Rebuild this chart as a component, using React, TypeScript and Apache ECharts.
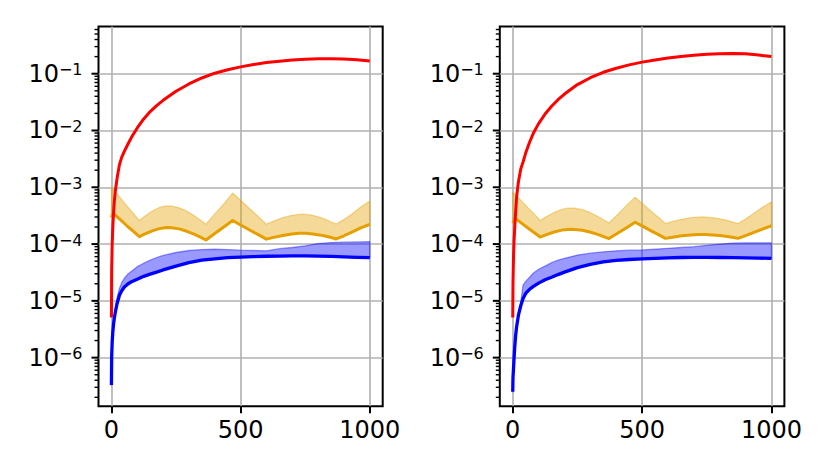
import React, { useEffect, useRef } from "react";
import * as echarts from "echarts";

const FONT = "DejaVu Sans";

// Axis settings
const X_MIN = -50;
const X_MAX = 1050;
const X_TICKS = [0, 500, 1000];
const Y_MIN = 1.39e-7;
const Y_MAX = 0.678;
const Y_MAJOR = [1e-6, 1e-5, 1e-4, 1e-3, 1e-2, 1e-1];
const MINOR_MANTISSAS = [2, 3, 4, 5, 6, 7, 8, 9];
const MINOR_DECADES = [-7, -6, -5, -4, -3, -2, -1];

// Shared x grid for red and blue curves
const xs = [0, 1, 3, 5, 8, 11, 15, 22, 31, 40, 50, 65, 80, 100, 125, 150, 175, 200, 250, 300, 350, 400, 450, 500, 550, 600, 650, 700, 750, 800, 850, 900, 950, 1000];

// Left panel
const redLeft = [5.1e-6, 3.5e-5, 1.0e-4, 1.8e-4, 3.4e-4, 5.5e-4, 8.5e-4, 1.45e-3, 2.5e-3, 3.4e-3, 4.3e-3, 5.9e-3, 7.9e-3, 1.11e-2, 1.6e-2, 2.15e-2, 2.75e-2, 3.4e-2, 4.9e-2, 6.6e-2, 8.41e-2, 0.102, 0.1175, 0.132, 0.145, 0.157, 0.166, 0.174, 0.18, 0.183, 0.184, 0.182, 0.176, 0.167];
const blueLeftLo = [3.3e-7, 1.05e-6, 1.9e-6, 2.7e-6, 3.8e-6, 4.9e-6, 6.3e-6, 9.0e-6, 1.25e-5, 1.5e-5, 1.75e-5, 2.0e-5, 2.2e-5, 2.4e-5, 2.7e-5, 2.95e-5, 3.2e-5, 3.5e-5, 4.1e-5, 4.7e-5, 5.2e-5, 5.5e-5, 5.75e-5, 5.9e-5, 6.0e-5, 6.1e-5, 6.15e-5, 6.2e-5, 6.2e-5, 6.15e-5, 6.05e-5, 5.95e-5, 5.85e-5, 5.75e-5];
const blueLeftHi = [3.3e-7, 1.05e-6, 1.9e-6, 2.7e-6, 3.8e-6, 4.9e-6, 7.0e-6, 1.15e-5, 1.65e-5, 2.1e-5, 2.5e-5, 3.0e-5, 3.4e-5, 4.0e-5, 4.6e-5, 5.2e-5, 5.8e-5, 6.3e-5, 7.1e-5, 7.7e-5, 8.0e-5, 8.1e-5, 8.0e-5, 7.8e-5, 7.7e-5, 7.6e-5, 8.3e-5, 8.7e-5, 9.3e-5, 1.02e-4, 1.06e-4, 1.08e-4, 1.09e-4, 1.1e-4];
const orangeLeftX = [0, 6, 30, 60, 85, 108, 130, 158, 185, 207, 218, 233, 262, 292, 322, 348, 366, 400, 435, 469, 500, 535, 570, 600, 628, 663, 698, 726, 740, 753, 779, 805, 831, 854, 870, 900, 935, 965, 1000];
const orangeLeftLo = [2.95e-4, 3.5e-4, 2.8e-4, 2.1e-4, 1.67e-4, 1.35e-4, 1.51e-4, 1.71e-4, 1.87e-4, 1.94e-4, 1.95e-4, 1.94e-4, 1.85e-4, 1.68e-4, 1.48e-4, 1.3e-4, 1.18e-4, 1.53e-4, 2.0e-4, 2.6e-4, 2.17e-4, 1.77e-4, 1.45e-4, 1.22e-4, 1.31e-4, 1.42e-4, 1.51e-4, 1.55e-4, 1.55e-4, 1.545e-4, 1.51e-4, 1.45e-4, 1.37e-4, 1.29e-4, 1.23e-4, 1.4e-4, 1.66e-4, 1.93e-4, 2.23e-4];
const orangeLeftHi = [1.0e-3, 9.3e-4, 6.9e-4, 4.7e-4, 3.45e-4, 2.6e-4, 3.12e-4, 3.82e-4, 4.41e-4, 4.67e-4, 4.7e-4, 4.66e-4, 4.34e-4, 3.79e-4, 3.13e-4, 2.57e-4, 2.24e-4, 3.4e-4, 5.1e-4, 7.9e-4, 5.9e-4, 4.2e-4, 3.0e-4, 2.24e-4, 2.54e-4, 2.91e-4, 3.21e-4, 3.33e-4, 3.35e-4, 3.33e-4, 3.21e-4, 2.98e-4, 2.69e-4, 2.42e-4, 2.25e-4, 2.7e-4, 3.5e-4, 4.5e-4, 5.7e-4];

// Right panel
const redRight = [5.1e-6, 2.0e-5, 6.0e-5, 1.1e-4, 2.0e-4, 3.6e-4, 6.8e-4, 1.25e-3, 2.1e-3, 2.8e-3, 4.0e-3, 6.2e-3, 9.0e-3, 1.32e-2, 1.95e-2, 2.67e-2, 3.48e-2, 4.38e-2, 6.44e-2, 8.5e-2, 0.106, 0.125, 0.143, 0.16, 0.175, 0.189, 0.201, 0.212, 0.22, 0.225, 0.227, 0.224, 0.214, 0.2];
const blueRightLo = [2.5e-7, 4.5e-7, 6.5e-7, 9.5e-7, 1.6e-6, 2.4e-6, 3.5e-6, 5.6e-6, 8.2e-6, 1.1e-5, 1.35e-5, 1.6e-5, 1.8e-5, 2.05e-5, 2.35e-5, 2.6e-5, 2.9e-5, 3.2e-5, 3.85e-5, 4.4e-5, 4.85e-5, 5.15e-5, 5.35e-5, 5.5e-5, 5.6e-5, 5.7e-5, 5.8e-5, 5.85e-5, 5.85e-5, 5.8e-5, 5.75e-5, 5.7e-5, 5.65e-5, 5.6e-5];
const blueRightHi = [2.5e-7, 4.5e-7, 6.5e-7, 9.5e-7, 1.6e-6, 2.4e-6, 3.5e-6, 5.6e-6, 9.5e-6, 1.9e-5, 2.2e-5, 2.6e-5, 3.1e-5, 3.6e-5, 4.1e-5, 4.7e-5, 5.2e-5, 5.6e-5, 6.4e-5, 6.9e-5, 7.3e-5, 7.6e-5, 7.8e-5, 7.9e-5, 8.1e-5, 8.4e-5, 8.7e-5, 9.0e-5, 9.5e-5, 1.0e-4, 1.04e-4, 1.05e-4, 1.05e-4, 1.05e-4];
const orangeRightX = [0, 9, 30, 60, 85, 106, 130, 160, 189, 213, 225, 240, 269, 298, 328, 354, 372, 405, 440, 473, 505, 535, 565, 590, 618, 653, 688, 716, 730, 744, 772, 800, 829, 854, 871, 900, 935, 965, 1000];
const orangeRightLo = [2.34e-4, 2.85e-4, 2.41e-4, 1.9e-4, 1.57e-4, 1.33e-4, 1.47e-4, 1.63e-4, 1.76e-4, 1.81e-4, 1.82e-4, 1.81e-4, 1.75e-4, 1.63e-4, 1.48e-4, 1.34e-4, 1.25e-4, 1.55e-4, 1.94e-4, 2.42e-4, 2.03e-4, 1.71e-4, 1.45e-4, 1.26e-4, 1.32e-4, 1.4e-4, 1.45e-4, 1.48e-4, 1.48e-4, 1.48e-4, 1.45e-4, 1.41e-4, 1.36e-4, 1.3e-4, 1.26e-4, 1.41e-4, 1.62e-4, 1.83e-4, 2.1e-4];
const orangeRightHi = [8.3e-4, 7.5e-4, 6.0e-4, 4.3e-4, 3.3e-4, 2.6e-4, 3.04e-4, 3.6e-4, 4.07e-4, 4.28e-4, 4.3e-4, 4.27e-4, 4.03e-4, 3.6e-4, 3.09e-4, 2.63e-4, 2.35e-4, 3.3e-4, 4.8e-4, 6.7e-4, 5.0e-4, 3.8e-4, 2.9e-4, 2.3e-4, 2.5e-4, 2.73e-4, 2.91e-4, 2.99e-4, 3.0e-4, 2.99e-4, 2.91e-4, 2.78e-4, 2.6e-4, 2.42e-4, 2.3e-4, 2.75e-4, 3.55e-4, 4.45e-4, 5.5e-4];

const RED = "#ff0000";
const BLUE = "#0000ff";
const ORANGE = "#e69f00";
const ORANGE_FILL = "rgba(230,159,0,0.4)";
const BLUE_FILL = "rgba(0,0,255,0.4)";
const GRID_COLOR = "#b0b0b0";

const PANELS = [
  { left: 98.5, width: 284.2, red: redLeft, bLo: blueLeftLo, bHi: blueLeftHi, oX: orangeLeftX, oLo: orangeLeftLo, oHi: orangeLeftHi },
  { left: 499.8, width: 284.6, red: redRight, bLo: blueRightLo, bHi: blueRightHi, oX: orangeRightX, oLo: orangeRightLo, oHi: orangeRightHi },
];

function yTickRows() {
  const rows: number[][] = [];
  Y_MAJOR.forEach((v) => rows.push([X_MIN, v, 1]));
  MINOR_DECADES.forEach((d) =>
    MINOR_MANTISSAS.forEach((m) => {
      const v = m * Math.pow(10, d);
      if (v > Y_MIN && v < Y_MAX) rows.push([X_MIN, v, 0]);
    })
  );
  return rows;
}

function bandSeries(gi: number, bx: number[], lo: number[], hi: number[], fill: string) {
  return {
    type: "custom",
    xAxisIndex: gi,
    yAxisIndex: gi,
    clip: true,
    silent: true,
    data: bx.map((x, i) => [x, lo[i], hi[i]]),
    encode: { x: 0, y: [1, 2] },
    renderItem: (params: any, api: any) => {
      if (params.dataIndex !== 0) return null;
      const pts: number[][] = [];
      for (let i = 0; i < bx.length; i++) pts.push(api.coord([bx[i], hi[i]]));
      for (let i = bx.length - 1; i >= 0; i--) pts.push(api.coord([bx[i], lo[i]]));
      return {
        type: "polygon",
        shape: { points: pts },
        style: { fill, stroke: fill, lineWidth: 1.3, lineJoin: "round" },
      };
    },
  };
}

function lineSeries(gi: number, x: number[], y: number[], color: string, width: number) {
  return {
    type: "line",
    xAxisIndex: gi,
    yAxisIndex: gi,
    data: x.map((v, i) => [v, y[i]]),
    symbol: "none",
    showSymbol: false,
    silent: true,
    clip: true,
    lineStyle: { color, width, join: "round", cap: "butt" },
    itemStyle: { color },
  };
}

function tickSeries(gi: number) {
  return {
    type: "custom",
    xAxisIndex: gi,
    yAxisIndex: gi,
    clip: false,
    silent: true,
    data: yTickRows(),
    encode: { x: 0, y: 1 },
    renderItem: (params: any, api: any) => {
      const v = api.value(1);
      const major = api.value(2) === 1;
      const p = api.coord([X_MIN, v]);
      const len = major ? 7 : 4;
      return {
        type: "line",
        shape: { x1: p[0] - len, y1: p[1], x2: p[0], y2: p[1] },
        style: { stroke: "#000", lineWidth: major ? 2 : 1.4 },
      };
    },
  };
}

function yLabel(v: number) {
  const e = Math.log10(v);
  const r = Math.round(e);
  if (Math.abs(e - r) > 1e-6) return "";
  return "{b|10}{s|\u2212" + String(-r) + "}";
}

function buildOption() {
  const grid = PANELS.map((p) => ({
    left: p.left,
    top: 26.5,
    width: p.width,
    height: 379.8,
    show: true,
    borderColor: "#000",
    borderWidth: 2,
    backgroundColor: "transparent",
  }));
  const xAxis = PANELS.map((_, gi) => ({
    type: "value",
    gridIndex: gi,
    min: X_MIN,
    max: X_MAX,
    axisLine: { show: false },
    axisTick: { show: true, customValues: X_TICKS, length: 7, lineStyle: { color: "#000", width: 2 } },
    axisLabel: {
      customValues: X_TICKS,
      formatter: (v: number) => String(v),
      fontSize: 24,
      fontFamily: FONT,
      color: "#000",
      margin: 12,
    },
    splitLine: { show: true, lineStyle: { color: GRID_COLOR, width: 1.6 } },
  }));
  const yAxis = PANELS.map((_, gi) => ({
    type: "log",
    logBase: 10,
    gridIndex: gi,
    min: Y_MIN,
    max: Y_MAX,
    axisLine: { show: false },
    axisTick: { show: false },
    axisLabel: {
      formatter: yLabel,
      margin: 16,
      showMinLabel: false,
      showMaxLabel: false,
      rich: {
        b: { fontSize: 24, fontFamily: FONT, color: "#000", lineHeight: 24, verticalAlign: "bottom" },
        s: { fontSize: 16, fontFamily: FONT, color: "#000", lineHeight: 10, verticalAlign: "top" },
      },
    },
    splitLine: { show: true, showMinLine: false, showMaxLine: false, lineStyle: { color: GRID_COLOR, width: 1.6 } },
  }));
  const series: any[] = [];
  PANELS.forEach((p, gi) => {
    series.push(bandSeries(gi, p.oX, p.oLo, p.oHi, ORANGE_FILL));
    series.push(lineSeries(gi, p.oX, p.oLo, ORANGE, 3));
    series.push(bandSeries(gi, xs, p.bLo, p.bHi, BLUE_FILL));
    series.push(lineSeries(gi, xs, p.bLo, BLUE, 3.3));
    series.push(lineSeries(gi, xs, p.red, RED, 3));
    series.push(tickSeries(gi));
  });
  return { animation: false, grid, xAxis, yAxis, series };
}

export default function App() {
  const ref = useRef<HTMLDivElement>(null);
  useEffect(() => {
    if (!ref.current) return;
    const chart = echarts.init(ref.current, null, { renderer: "svg" });
    chart.setOption(buildOption() as any);
    return () => chart.dispose();
  }, []);
  return <div ref={ref} style={{ position: "absolute", left: 0, top: 0, width: 830, height: 471, background: "#fff" }} />;
}
